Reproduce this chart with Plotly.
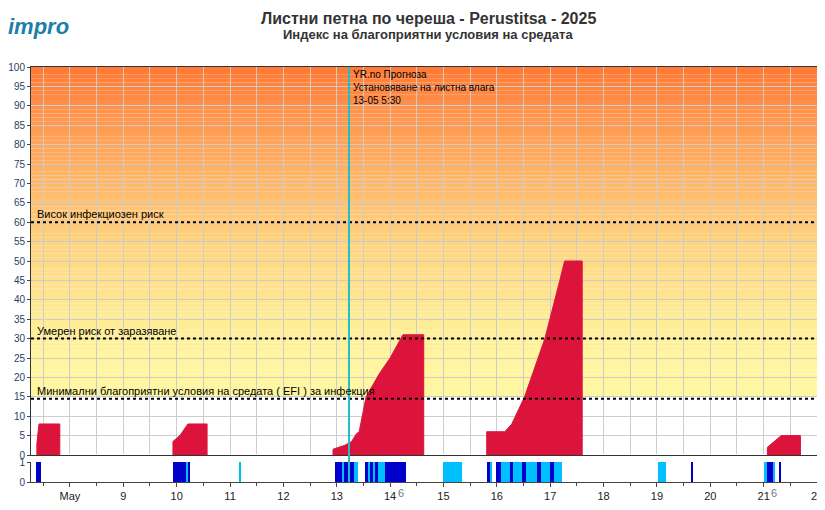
import plotly.graph_objects as go
import pandas as pd

# Risk index (day-of-May fraction, value); None separates episodes
risk_days = [7.38,7.38,7.42,7.81,7.81,None, 9.93,9.93,10.06,10.21,10.57,10.57,None,
             12.93,12.93,13.15,13.28,13.37,13.42,13.55,13.80,14.0,14.24,14.63,14.63,None,
             15.81,15.81,16.15,16.28,16.52,16.90,17.18,17.27,17.60,17.60,None,
             21.07,21.07,21.33,21.69,21.69]
risk_vals = [0,3,8,8,0,None, 0,3.5,5,8,8,0,None,
             0,1.5,2.5,3.5,5.5,6,15,21,25,31,31,0,None,
             0,6,6,8,15,30,45,50,50,0,None,
             0,2,5,5,0]

# Leaf wetness intervals (start day, end day, kind 'd' dark / 'l' light)
wet_start = [7.37,9.93,10.19,10.22,11.16,12.96,13.10,13.14,13.33,13.52,13.59,13.63,13.67,13.72,13.78,13.91,15.00,
             15.81,15.87,15.99,16.07,16.24,16.31,16.48,16.55,16.75,16.82,17.0,17.07,19.02,19.64,21.00,21.07,21.17,21.28,22.08]
wet_end   = [7.45,10.19,10.22,10.24,11.20,13.10,13.14,13.33,13.39,13.59,13.63,13.67,13.72,13.78,13.91,14.29,15.34,
             15.87,15.91,16.07,16.24,16.31,16.48,16.55,16.75,16.82,17.0,17.07,17.22,19.17,19.68,21.07,21.17,21.21,21.32,22.20]
wet_kind  = ['d','d','l','d','l','d','l','d','l','d','l','d','l','d','l','d','l',
             'd','l','d','l','d','l','d','l','d','l','d','l','l','d','l','d','l','d','l']

tick_days = list(range(8, 23))
tick_text = ['May'] + [str(d) for d in range(9, 23)]
thresholds = [60, 30, 14.5]
threshold_labels = ['Висок инфекциозен риск', 'Умерен риск от заразяване',
                    'Минимални благоприятни условия на средата ( EFI ) за инфекция']
forecast_day = 13 + 5.5/24

base = pd.Timestamp('2025-05-01')
def T(d):
    return None if d is None else base + pd.to_timedelta(d - 1, unit='D')

fig = go.Figure()
fig.add_trace(go.Scatter(x=[T(d) for d in risk_days], y=risk_vals, mode='lines',
                         line=dict(color='#DC143C', width=1), fill='tozeroy', connectgaps=False,
                         fillcolor='#DC143C', yaxis='y', xaxis='x', showlegend=False))
for kind, col in (('d', '#0000CC'), ('l', '#00BFFF')):
    xs, ws = [], []
    for s, e, k in zip(wet_start, wet_end, wet_kind):
        if k == kind:
            xs.append(T((s+e)/2)); ws.append((e-s)*86400000)
    fig.add_trace(go.Bar(x=xs, y=[1]*len(xs), width=ws, marker=dict(color=col, line_width=0),
                         yaxis='y2', xaxis='x', showlegend=False))

shapes = []
n = 85
for i in range(n):
    f = (i / (n-1)) ** 1.6
    r, g, b = 255, int(248 + (122-248)*f), int(160 + (55-160)*f)
    shapes.append(dict(type='rect', xref='x domain', yref='y', x0=0, x1=1, y0=15+i, y1=16+i,
                       fillcolor=f'rgb({r},{g},{b})', line_width=0, layer='below'))
for t, lab in zip(thresholds, threshold_labels):
    shapes.append(dict(type='line', xref='x domain', yref='y', x0=0, x1=1, y0=t, y1=t,
                       line=dict(color='black', width=2, dash='dot')))
shapes.append(dict(type='line', xref='x', yref='paper', x0=T(forecast_day), x1=T(forecast_day),
                   y0=0, y1=1, line=dict(color='#20C0C8', width=2)))

ann = []
for t, lab in zip(thresholds, threshold_labels):
    ann.append(dict(xref='x domain', yref='y', x=0.005, y=t, text=lab, showarrow=False,
                    xanchor='left', yanchor='bottom', font=dict(size=11, color='black')))
ann.append(dict(xref='x', yref='y', x=T(forecast_day+0.04), y=100,
                text='YR.no Прогноза<br>Установяване на листна влага<br>13-05 5:30',
                showarrow=False, xanchor='left', yanchor='top', align='left',
                font=dict(size=10, color='black')))
for d in (14, 21):
    ann.append(dict(xref='x', yref='paper', x=T(d+0.2), y=0, yshift=-19, text='6',
                    showarrow=False, font=dict(size=11, color='#777')))
ann.append(dict(xref='paper', yref='paper', x=0.5, y=1, yshift=59, text='<b>Листни петна по череша - Perustitsa - 2025</b>',
                showarrow=False, font=dict(size=16, color='#333')))
ann.append(dict(xref='paper', yref='paper', x=0.5, y=1, yshift=42, text='<b>Индекс на благоприятни условия на средата</b>',
                showarrow=False, font=dict(size=13, color='#333')))
ann.append(dict(xref='paper', yref='paper', x=-0.032, y=1, yshift=55, xanchor='left',
                text='<b><i>impro</i></b>', showarrow=False, font=dict(size=22, color='#1B7FA8')))

fig.update_layout(
    width=817, height=502, margin=dict(l=23, r=0, t=59, b=28),
    plot_bgcolor='white', paper_bgcolor='white', font=dict(family='Arial', size=10),
    barmode='overlay', bargap=0,
    xaxis=dict(range=[T(7.27), T(22.15)], tickvals=[T(d) for d in tick_days], ticktext=tick_text,
               tickfont=dict(size=11, color='#222'), ticks='outside', ticklen=4, automargin=False,
               showgrid=False, anchor='y2', showline=True, linecolor='#444', mirror=False,
               tickprefix='<b>', ticksuffix='</b>',
               minor=dict(dtick=43200000, tick0=T(8), ticks='outside', ticklen=3, showgrid=False)),
    xaxis2=dict(overlaying='x', matches='x', anchor='y', showticklabels=False, ticks='',
                showgrid=True, gridcolor='#ccc', dtick=43200000, tick0=T(8), automargin=False,
                showline=True, linecolor='#333', mirror=True),
    yaxis=dict(domain=[0.065, 1], range=[0, 100], dtick=5, ticks='outside', ticklen=3, automargin=False,
               showgrid=True, gridcolor='#ccc', showline=True, linecolor='#333', mirror=True,
               tickfont=dict(size=10)),
    yaxis2=dict(domain=[0, 0.048], range=[0, 1], tickvals=[0, 1], showgrid=False, automargin=False,
                showline=True, linecolor='#333', mirror=True, ticks='outside', ticklen=3),
    shapes=shapes, annotations=ann,
)
fig.add_trace(go.Scatter(x=[T(8)], y=[-10], xaxis='x2', yaxis='y', showlegend=False, hoverinfo='skip'))
fig.write_html('out.html')
